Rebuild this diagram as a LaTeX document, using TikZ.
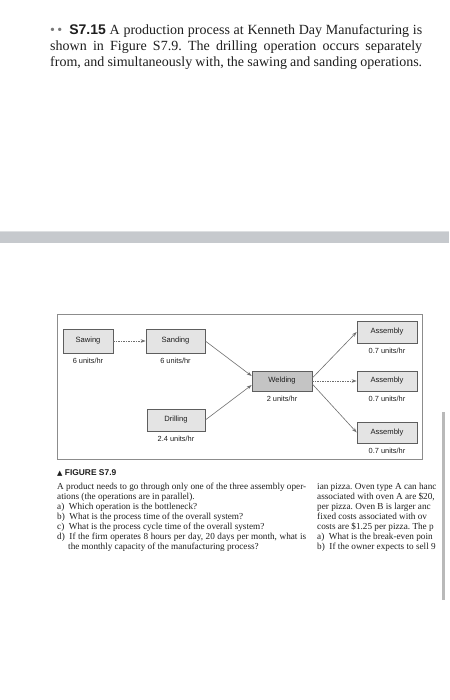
\documentclass[tikz,border=0pt]{standalone}
\usepackage{fontspec}
\setmainfont{Liberation Serif}
\setsansfont{Liberation Sans}
\newfontfamily\symfont{DejaVu Sans}
\usepackage{xcolor}
\usetikzlibrary{positioning, arrows.meta}
\frenchspacing

\definecolor{ink}{HTML}{1E1E1E}
\definecolor{boxline}{HTML}{5E5E5E}
\definecolor{boxfill}{HTML}{E4E4E4}
\definecolor{weldfill}{HTML}{C4C4C4}
\definecolor{flowline}{HTML}{6E6E6E}
\definecolor{framecol}{HTML}{8C8C8C}
\definecolor{barcol}{HTML}{C6C9CD}

\tikzset{
  stage/.style={draw=boxline, fill=boxfill, line width=0.6pt, inner sep=0pt,
    font=\sffamily\fontsize{7.6}{9}\selectfont, text=ink},
  weldstage/.style={stage, fill=weldfill},
  rate/.style={font=\sffamily\fontsize{7.4}{8}\selectfont, text=ink, inner sep=0pt},
  flow/.style={draw=flowline, line width=0.6pt,
    -{Stealth[open, length=5pt, width=3.5pt]}},
  flowdash/.style={flow, dash pattern=on 1.5pt off 1pt},
  prose/.style={font=\fontsize{14}{16}\selectfont, text=ink, anchor=base west, inner sep=0pt},
  small/.style={font=\fontsize{9.2}{10}\selectfont, text=ink, anchor=base west, inner sep=0pt}
}

\begin{document}
\begin{tikzpicture}[x=1pt, y=-1pt]
    \useasboundingbox (0,0) rectangle (449,700);

    % Problem statement
    \node[prose] (line1) at (50,35) {\makebox[372pt][s]{{\color{ink!60}\textbullet\,\textbullet}\enspace
      {\sffamily\bfseries S7.15} A production process at Kenneth Day Manufacturing is}};
    \node[prose] (line2) at (50,51) {\makebox[372pt][s]{shown in Figure S7.9. The drilling operation occurs separately}};
    \node[prose] (line3) at (50,67) {\makebox[372pt][s]{from, and simultaneously with, the sawing and sanding operations.}};

    % Page separator bar
    \fill[barcol] (0,231) rectangle (449,243);
    \draw[barcol!60, line width=0.4pt] (0,231) -- (449,231);

    % Figure frame
    \draw[framecol, line width=0.7pt] (57,314) rectangle (422,459);

    % Stages
    \node[stage, minimum width=50pt, minimum height=24pt] (sawing) at (88,341) {Sawing};
    \node[stage, minimum width=59pt, minimum height=24pt] (sanding) at (175.5,341) {Sanding};
    \node[stage, minimum width=58pt, minimum height=22pt] (drilling) at (176,420) {Drilling};
    \node[weldstage, minimum width=60pt, minimum height=20pt] (welding) at (282,381) {Welding};
    \node[stage, minimum width=60pt, minimum height=22pt] (asm1) at (387,332) {Assembly};
    \node[stage, minimum width=60pt, minimum height=20pt] (asm2) at (387,381) {Assembly};
    \node[stage, minimum width=60pt, minimum height=21pt] (asm3) at (387,432.5) {Assembly};

    % Capacities
    \node[rate, below=5pt of sawing] (sawingrate) {6 units/hr};
    \node[rate, below=5pt of sanding] (sandingrate) {6 units/hr};
    \node[rate, below=5pt of drilling] (drillingrate) {2.4 units/hr};
    \node[rate, below=5pt of welding] (weldingrate) {2 units/hr};
    \node[rate, below=5pt of asm1] (asm1rate) {0.7 units/hr};
    \node[rate, below=5pt of asm2] (asm2rate) {0.7 units/hr};
    \node[rate, below=5pt of asm3] (asm3rate) {0.7 units/hr};

    % Flows
    \draw[flowdash] (sawing) -- (sanding);
    \draw[flow] (sanding.east) -- ([yshift=5pt]welding.west);
    \draw[flow] (drilling.east) -- ([yshift=-4pt]welding.west);
    \draw[flow] ([yshift=3pt]welding.east) -- (asm1.west);
    \draw[flowdash] (welding) -- (asm2);
    \draw[flow] ([yshift=-3pt]welding.east) -- (asm3.west);

    % Caption
    \node[anchor=base west, inner sep=0pt, text=ink, font=\sffamily\bfseries\fontsize{8.4}{9}\selectfont]
      (caption) at (57,475) {{\symfont\fontsize{7}{8}\selectfont ▲} FIGURE S7.9};

    % Questions, left column
    \node[small] (q1) at (57,489) {\makebox[249pt][s]{A product needs to go through only one of the three assembly oper-}};
    \node[small] (q2) at (57,499) {ations (the operations are in parallel).};
    \node[small] (q3) at (57,509) {a)\enspace Which operation is the bottleneck?};
    \node[small] (q4) at (57,519) {b)\enspace What is the process time of the overall system?};
    \node[small] (q5) at (57,529) {c)\enspace What is the process cycle time of the overall system?};
    \node[small] (q6) at (57,539) {\makebox[249pt][s]{d)\enspace If the firm operates 8 hours per day, 20 days per month, what is}};
    \node[small] (q7) at (68,549) {the monthly capacity of the manufacturing process?};

    % Next problem, cut off at the page edge
    \begin{scope}
      \clip (300,470) rectangle (441,560);
      \node[small] (r1) at (317,489) {ian pizza. Oven type A can hanc};
      \node[small] (r2) at (317,499) {associated with oven A are \$20,};
      \node[small] (r3) at (317,509) {per pizza. Oven B is larger anc};
      \node[small] (r4) at (317,519) {fixed costs associated with ov};
      \node[small] (r5) at (317,529) {costs are \$1.25 per pizza. The p};
      \node[small] (r6) at (317,539) {a)\enspace What is the break-even poin};
      \node[small] (r7) at (317,549) {b)\enspace If the owner expects to sell 9};
    \end{scope}

    % Margin bar
    \fill[gray!55] (442,412) rectangle (445,600);
\end{tikzpicture}
\end{document}
